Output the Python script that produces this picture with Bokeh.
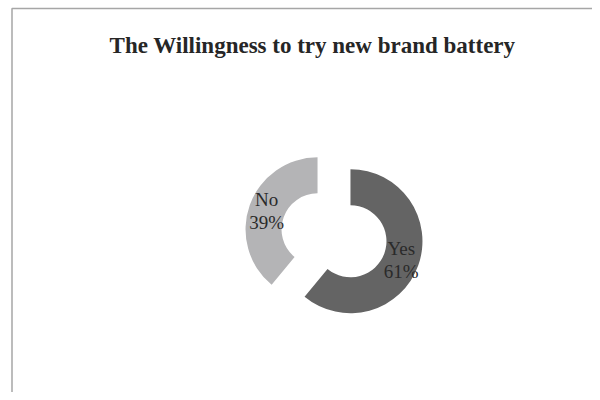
import math
from bokeh.plotting import figure
from bokeh.models import Range1d, ColumnDataSource
from bokeh.core.properties import value
from bokeh.embed import file_html
from bokeh.resources import INLINE

# ---- data ----
title_text = "The Willingness to try new brand battery"
categories = ["Yes", "No"]
percents = [61, 39]
colors = ["#646464", "#b4b4b6"]

# ---- layout (page pixel space; data y = 400 - page_y) ----
W, H = 592, 392
p = figure(width=W, height=H, output_backend="svg", toolbar_location=None,
           x_range=Range1d(0, 592), y_range=Range1d(8, 400),
           x_axis_location=None, y_axis_location=None, min_border=0)
p.grid.visible = False
p.outline_line_color = None
p.background_fill_color = "white"
p.border_fill_color = "white"

def Y(py):
    return 400 - py

cx, cy = 333.5, Y(234.8)
outer_r, inner_r = 72, 36
explode = 17.5
font = "Liberation Serif"

total = float(sum(percents))
xs, ys, starts, ends, lx, ly = [], [], [], [], [], []
a0 = 0.0  # clockwise degrees from 12 o'clock
for pct in percents:
    a1 = a0 + 360.0 * pct / total
    start = math.radians(90 - a1)
    end = math.radians(90 - a0)
    mid = (start + end) / 2
    ox = cx + explode * math.cos(mid)
    oy = cy + explode * math.sin(mid)
    xs.append(ox); ys.append(oy)
    starts.append(start); ends.append(end)
    rm = (outer_r + inner_r) / 2
    lx.append(ox + rm * math.cos(mid))
    ly.append(oy + rm * math.sin(mid))
    a0 = a1

src = ColumnDataSource(dict(x=xs, y=ys, start=starts, end=ends, color=colors))
p.annular_wedge(x="x", y="y", inner_radius=inner_r, outer_radius=outer_r,
                start_angle="start", end_angle="end", direction="anticlock",
                fill_color="color", line_color=None, source=src)

line_gap = 11.5
top_lines = dict(x=lx, y=[v + line_gap for v in ly], t=categories)
bot_lines = dict(x=lx, y=[v - line_gap for v in ly], t=[f"{v}%" for v in percents])
for d in (top_lines, bot_lines):
    p.text(x="x", y="y", text="t", source=ColumnDataSource(d),
           text_font=value(font), text_font_size="19px", text_color="#2a2a2a",
           text_align="center", text_baseline="middle")

# title
p.text(x=[312], y=[Y(45)], text=[title_text], text_font=value(font),
       text_font_size="23px", text_font_style="bold", text_color="#262626",
       text_align="center", text_baseline="alphabetic")

# chart frame (top and left edges visible)
p.line(x=[11.5, 11.5, 601], y=[Y(401), Y(8), Y(8)], line_color="#a6a6a6", line_width=1.5)

open("out.html", "w").write(file_html(p, INLINE))
